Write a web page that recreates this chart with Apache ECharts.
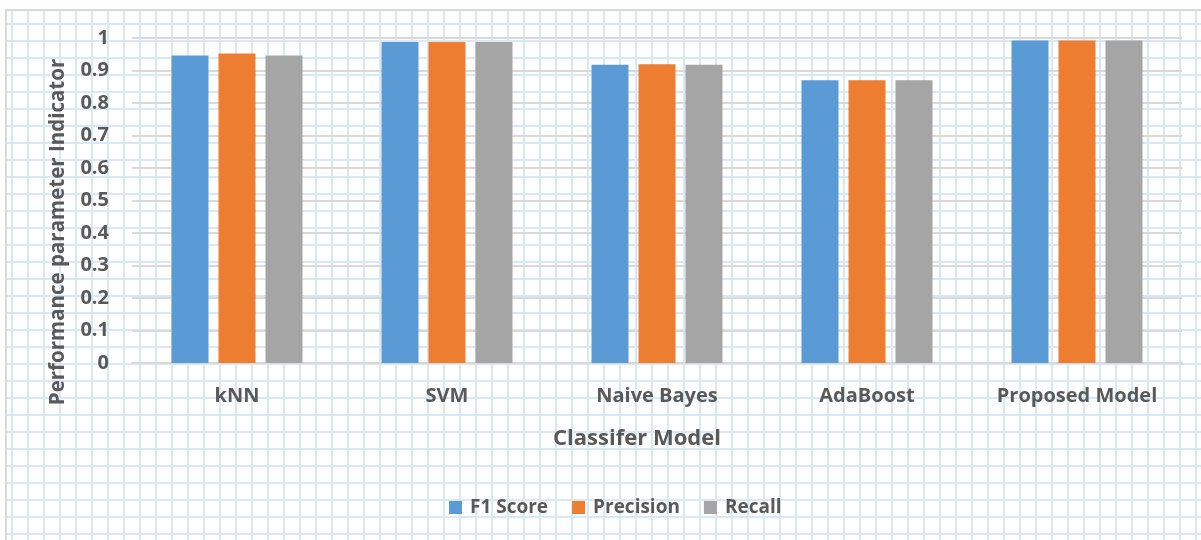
<!DOCTYPE html>
<html>
<head>
<meta charset="utf-8">
<script src="https://cdn.jsdelivr.net/npm/echarts@6/dist/echarts.min.js"></script>
<style>
  html, body { margin: 0; padding: 0; background: #ffffff; }
  #wrap { position: relative; width: 1201px; height: 540px; overflow: hidden; background: #ffffff; }
  #paper {
    position: absolute; left: 5px; top: 9px; right: 0; bottom: 0;
    border-left: 2px solid #d9d9d9; border-top: 2px solid #d9d9d9;
    background-image:
      linear-gradient(to right, #dce7f4 2px, transparent 2px),
      linear-gradient(to bottom, #dce7f4 2px, transparent 2px);
    background-size: 16px 17px, 16px 17px;
    background-position: 4px 0, 0 12px;
  }
  #chart { position: absolute; left: 0; top: 0; width: 1201px; height: 540px; }
</style>
</head>
<body>
<div id="wrap">
  <div id="paper"></div>
  <div id="chart"></div>
</div>
<script>
const categories = ['kNN', 'SVM', 'Naive Bayes', 'AdaBoost', 'Proposed Model'];
const seriesNames = ['F1 Score', 'Precision', 'Recall'];
const f1Score   = [0.946, 0.988, 0.918, 0.870, 0.992];
const precision = [0.952, 0.988, 0.919, 0.870, 0.992];
const recall    = [0.946, 0.988, 0.918, 0.870, 0.992];
const yTicks = { min: 0, max: 1, interval: 0.1 };
const xTitle = 'Classifer Model';
const yTitle = 'Performance parameter Indicator';

const colors = ['#5B9BD5', '#ED7D31', '#A5A5A5'];
const font = '"Open Sans", "Noto Sans", sans-serif';
const txt = '#595959';

const chart = echarts.init(document.getElementById('chart'), null, { renderer: 'canvas' });
const dataSets = [f1Score, precision, recall];

chart.setOption({
  backgroundColor: 'transparent',
  animation: false,
  color: colors,
  grid: { left: 132, right: 19, top: 38, bottom: 177, containLabel: false },
  xAxis: {
    type: 'category',
    data: categories,
    axisLine: { show: true, lineStyle: { color: '#d9d9d9', width: 2 } },
    axisTick: { show: false },
    axisLabel: { color: txt, fontFamily: font, fontWeight: 'bold', fontSize: 20, margin: 23 },
    splitLine: { show: false }
  },
  yAxis: {
    type: 'value',
    min: yTicks.min, max: yTicks.max, interval: yTicks.interval,
    axisLine: { show: false },
    axisTick: { show: false },
    axisLabel: { color: txt, fontFamily: font, fontWeight: 'bold', fontSize: 20, margin: 23 },
    splitLine: { show: true, lineStyle: { color: '#d9d9d9', width: 2 } }
  },
  legend: {
    data: seriesNames,
    left: 444, top: 493,
    icon: 'rect', itemWidth: 13, itemHeight: 13, itemGap: 24,
    textStyle: { color: txt, fontFamily: font, fontWeight: 'bold', fontSize: 19, padding: [0, 0, 0, 3] }
  },
  graphic: [
    {
      type: 'text', x: 58, y: 232, rotation: Math.PI / 2,
      style: { text: yTitle, fill: txt, font: 'bold 20.5px ' + font, textAlign: 'center', textVerticalAlign: 'middle' }
    },
    {
      type: 'text', x: 637, y: 439,
      style: { text: xTitle, fill: txt, font: 'bold 22px ' + font, textAlign: 'center', textVerticalAlign: 'middle' }
    }
  ],
  series: seriesNames.map((name, i) => ({
    name: name,
    type: 'bar',
    data: dataSets[i],
    barWidth: 37,
    barGap: '27%',
    itemStyle: { color: colors[i] }
  }))
});
</script>
</body>
</html>
